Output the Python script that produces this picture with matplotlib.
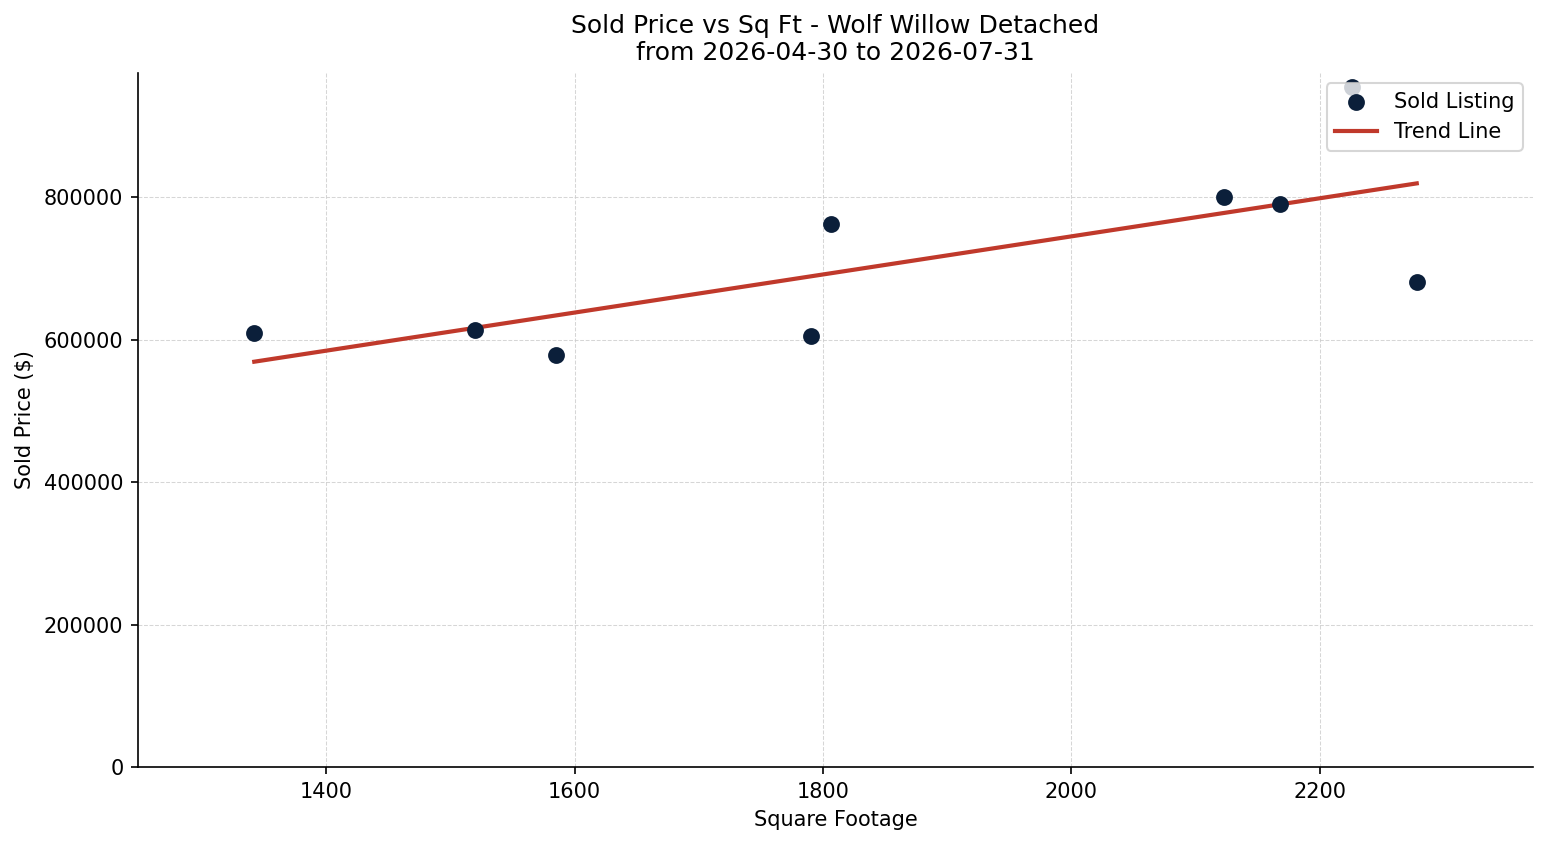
import numpy as np
import matplotlib
matplotlib.use('Agg')
import matplotlib.pyplot as plt

# Sold listings
sqft = [1342, 1520, 1585, 1790, 1806, 2123, 2168, 2226, 2278]
price = [609000, 614000, 579000, 604500, 762000, 800000, 790000, 955000, 680500]

point_color = '#0b1f3a'
line_color = '#c0392b'

fig = plt.figure(figsize=(1547 / 150, 845 / 150), dpi=150)
ax = fig.add_axes([138 / 1547, 1 - 767 / 845, (1533 - 138) / 1547, (767 - 73) / 845])

ax.scatter(sqft, price, s=50, color=point_color, label='Sold Listing', zorder=3)

# Linear trend
coef = np.polyfit(sqft, price, 1)
xs = np.array([min(sqft), max(sqft)])
ax.plot(xs, np.polyval(coef, xs), color=line_color, linewidth=2, label='Trend Line', zorder=2)

ax.margins(x=0.1)
ax.set_ylim(bottom=0)

ax.set_title('Sold Price vs Sq Ft - Wolf Willow Detached\nfrom 2026-04-30 to 2026-07-31', fontsize=12)
ax.set_xlabel('Square Footage')
ax.set_ylabel('Sold Price ($)')
ax.grid(True, linestyle='--', linewidth=0.5, color='#cccccc', alpha=0.8)
ax.set_axisbelow(True)
ax.spines['top'].set_visible(False)
ax.spines['right'].set_visible(False)
ax.legend(loc='upper right')

fig.savefig('out.png', dpi=150)
